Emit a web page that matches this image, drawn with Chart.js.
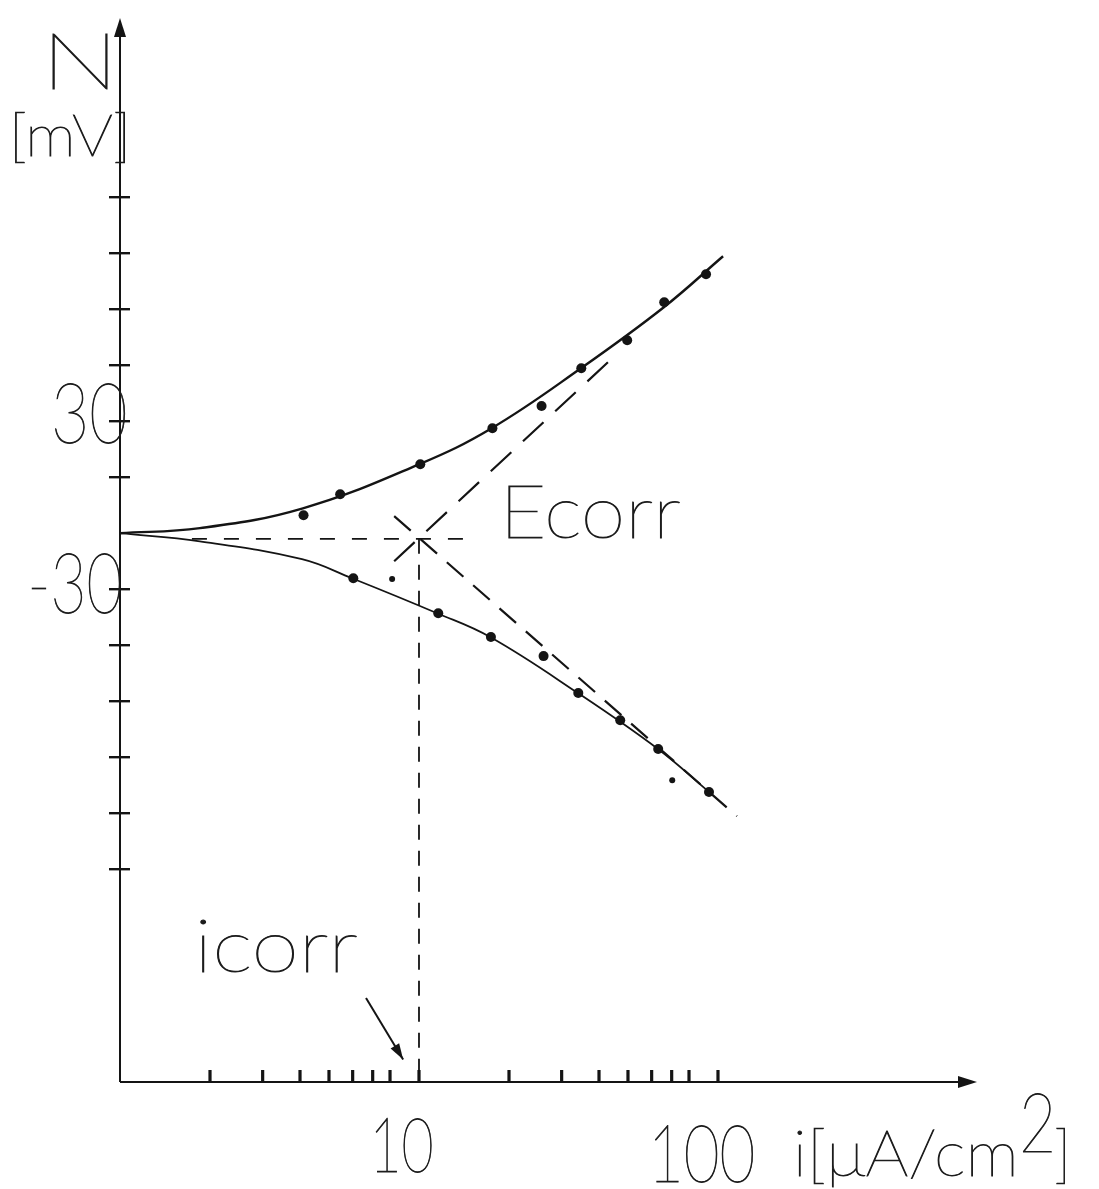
<!DOCTYPE html>
<html>
<head>
<meta charset="utf-8">
<script src="https://cdn.jsdelivr.net/npm/chart.js@4.4.1/dist/chart.umd.min.js"></script>
<style>
  html, body { margin: 0; padding: 0; background: #fff; }
  #wrap { width: 1099px; height: 1189px; position: relative; }
</style>
</head>
<body>
<div id="wrap"><canvas id="c" width="1099" height="1189"></canvas></div>
<script>
// Polarization curve: current density i [µA/cm²] on a log axis vs. overpotential [mV]

// Anodic branch: smooth fitted curve and measured points
const anodicCurveI = [1, 1.85, 4.09, 10.0, 17.5, 34.8, 65.9, 104];
const anodicCurveE = [-10, -8.2, -1.1, 14.6, 27.5, 48.9, 70.7, 88.9];
const anodicDotsI  = [4.11, 5.45, 10.1, 17.6, 25.7, 34.9, 49.7, 66.1, 91.2];
const anodicDotsE  = [-3.6, 3.9, 14.6, 27.5, 35.4, 48.9, 58.9, 72.5, 82.5];

// Cathodic branch: smooth fitted curve and measured points
const cathodicCurveI = [1, 1.85, 4.06, 5.97, 11.5, 17.3, 34.0, 63.0, 93.3];
const cathodicCurveE = [-10, -12.9, -19.3, -26.1, -38.6, -47.1, -67.1, -87.1, -102.4];
const cathodicDotsI  = [6.03, 11.6, 17.4, 26.1, 34.1, 47.1, 63.1, 93.3];
const cathodicDotsE  = [-26.1, -38.6, -47.1, -53.9, -67.1, -76.8, -87.1, -102.4];

// Small stray marks
const strayDotsI = [8.13, 70.3];
const strayDotsE = [-26.4, -98.2];

// Tafel extrapolation lines
const anodicTafelI   = [8.26, 44.3];
const anodicTafelE   = [-20.0, 52.5];
const cathodicTafelI = [8.26, 115.7];
const cathodicTafelE = [-3.9, -111.1];

// Corrosion potential / current
const ecorr = -12;
const icorr = 10;
const ecorrLineI = [1.74, 14.1];

// Axes
const xMin = 1, xMax = 735;
const yMin = -206, yMax = 174;
const xTickValues = [2, 3, 4, 5, 6, 7, 8, 10, 20, 30, 40, 50, 60, 70, 80, 100];
const yTickValues = [110, 90, 70, 50, 30, 10, -30, -50, -70, -90, -110, -130];

// Arrow pointing at i_corr on the current axis
const calloutFrom = { i: 6.65, e: -176 };
const calloutTo   = { i: 8.85, e: -198 };

const INK = '#141414';
const TEXT_INK = '#1c1c1c';
const FONT = "Lato, 'DejaVu Sans', sans-serif";
const WEIGHT = 200;

const pts = (xs, ys) => xs.map((x, k) => ({ x, y: ys[k] }));

// Draws text so that its ink box starts at `left` and spans `width`
function fitText(ctx, text, left, baseline, capH, width) {
  const size = capH / 0.72;
  ctx.font = `${WEIGHT} ${size}px ${FONT}`;
  ctx.textAlign = 'left';
  ctx.textBaseline = 'alphabetic';
  const m = ctx.measureText(text);
  const inkW = m.actualBoundingBoxLeft + m.actualBoundingBoxRight;
  const sx = width / inkW;
  ctx.save();
  ctx.translate(left, baseline);
  ctx.scale(sx, 1);
  ctx.fillStyle = TEXT_INK;
  ctx.strokeStyle = TEXT_INK;
  ctx.lineWidth = 0.9;
  ctx.fillText(text, m.actualBoundingBoxLeft, 0);
  ctx.strokeText(text, m.actualBoundingBoxLeft, 0);
  ctx.restore();
}

const axesPlugin = {
  id: 'handAxes',
  beforeDatasetsDraw(chart) {
    const { ctx, chartArea } = chart;
    const xs = chart.scales.x, ys = chart.scales.y;
    const x0 = xs.getPixelForValue(xMin);
    const y0 = ys.getPixelForValue(yMin);
    const yTop = chartArea.top;
    const xRight = chartArea.right;
    ctx.save();
    ctx.strokeStyle = INK;
    ctx.fillStyle = INK;
    ctx.lineCap = 'butt';
    // vertical axis
    ctx.lineWidth = 2;
    ctx.beginPath();
    ctx.moveTo(x0, y0);
    ctx.lineTo(x0, yTop + 14);
    ctx.stroke();
    ctx.beginPath();
    ctx.moveTo(x0, yTop);
    ctx.lineTo(x0 - 6, yTop + 19);
    ctx.lineTo(x0 + 6, yTop + 19);
    ctx.closePath();
    ctx.fill();
    // horizontal axis
    ctx.lineWidth = 2.2;
    ctx.beginPath();
    ctx.moveTo(x0, y0);
    ctx.lineTo(xRight - 14, y0);
    ctx.stroke();
    ctx.beginPath();
    ctx.moveTo(xRight, y0);
    ctx.lineTo(xRight - 19, y0 - 6);
    ctx.lineTo(xRight - 19, y0 + 6);
    ctx.closePath();
    ctx.fill();
    // y ticks crossing the axis
    ctx.lineWidth = 2.4;
    yTickValues.forEach(v => {
      const y = ys.getPixelForValue(v);
      ctx.beginPath();
      ctx.moveTo(x0 - 11, y);
      ctx.lineTo(x0 + 10, y);
      ctx.stroke();
    });
    // x ticks above the axis
    ctx.lineWidth = 3.2;
    xTickValues.forEach(v => {
      const x = xs.getPixelForValue(v);
      ctx.beginPath();
      ctx.moveTo(x, y0);
      ctx.lineTo(x, y0 - 12);
      ctx.stroke();
    });
    ctx.restore();
  },
  afterDraw(chart) {
    const { ctx } = chart;
    const xs = chart.scales.x, ys = chart.scales.y;
    ctx.save();
    // axis titles
    fitText(ctx, 'N', 53, 89, 56, 55);
    fitText(ctx, '[mV]', 15, 156, 42, 110);
    fitText(ctx, 'i[μA/cm', 797, 1176, 46, 216);
    fitText(ctx, '2', 1023, 1152, 59, 29);
    fitText(ctx, ']', 1056, 1176, 46, 9);
    // tick labels
    fitText(ctx, '30', 55, 443, 60, 70);
    fitText(ctx, '-30', 32, 613, 60, 88);
    fitText(ctx, '10', 376, 1172, 55, 56);
    fitText(ctx, '100', 655, 1182, 57, 98);
    // annotations
    fitText(ctx, 'Ecorr', 508, 538, 54, 172);
    fitText(ctx, 'icorr', 200, 972, 54, 157);
    // arrow to i_corr
    const ax = xs.getPixelForValue(calloutFrom.i), ay = ys.getPixelForValue(calloutFrom.e);
    const bx = xs.getPixelForValue(calloutTo.i), by = ys.getPixelForValue(calloutTo.e);
    ctx.strokeStyle = INK;
    ctx.fillStyle = INK;
    ctx.lineWidth = 2;
    ctx.beginPath();
    ctx.moveTo(ax, ay);
    ctx.lineTo(bx, by);
    ctx.stroke();
    const ang = Math.atan2(by - ay, bx - ax);
    const L = 16, W = 5;
    ctx.beginPath();
    ctx.moveTo(bx, by);
    ctx.lineTo(bx - L * Math.cos(ang) + W * Math.sin(ang), by - L * Math.sin(ang) - W * Math.cos(ang));
    ctx.lineTo(bx - L * Math.cos(ang) - W * Math.sin(ang), by - L * Math.sin(ang) + W * Math.cos(ang));
    ctx.closePath();
    ctx.fill();
    ctx.restore();
  }
};

const lineBase = { showLine: true, pointRadius: 0, borderColor: INK, fill: false };
const dotBase = { showLine: false, pointRadius: 5, pointHoverRadius: 5, pointBackgroundColor: INK, pointBorderColor: INK, pointBorderWidth: 0 };

new Chart(document.getElementById('c'), {
  type: 'scatter',
  data: {
    datasets: [
      { ...lineBase, label: 'anodic', data: pts(anodicCurveI, anodicCurveE), borderWidth: 2.4, tension: 0.4 },
      { ...lineBase, label: 'cathodic', data: pts(cathodicCurveI, cathodicCurveE), borderWidth: 1.8, tension: 0.4 },
      { ...lineBase, label: 'anodic Tafel', data: pts(anodicTafelI, anodicTafelE), borderWidth: 2.2, borderDash: [28, 16] },
      { ...lineBase, label: 'cathodic Tafel', data: pts(cathodicTafelI, cathodicTafelE), borderWidth: 2.2, borderDash: [22, 13] },
      { ...lineBase, label: 'Ecorr', data: pts(ecorrLineI, [ecorr, ecorr]), borderWidth: 1.8, borderDash: [15, 17] },
      { ...lineBase, label: 'icorr', data: pts([icorr, icorr], [ecorr, yMin]), borderWidth: 1.8, borderDash: [15, 11] },
      { ...dotBase, label: 'anodic data', data: pts(anodicDotsI, anodicDotsE) },
      { ...dotBase, label: 'cathodic data', data: pts(cathodicDotsI, cathodicDotsE) },
      { ...dotBase, label: 'marks', data: pts(strayDotsI, strayDotsE), pointRadius: 3 }
    ]
  },
  options: {
    responsive: false,
    devicePixelRatio: 1,
    animation: false,
    layout: { padding: { left: 120, right: 122, top: 18, bottom: 107 } },
    plugins: { legend: { display: false }, tooltip: { enabled: false } },
    scales: {
      x: { type: 'logarithmic', min: xMin, max: xMax, display: false },
      y: { type: 'linear', min: yMin, max: yMax, display: false }
    }
  },
  plugins: [axesPlugin]
});
</script>
</body>
</html>
